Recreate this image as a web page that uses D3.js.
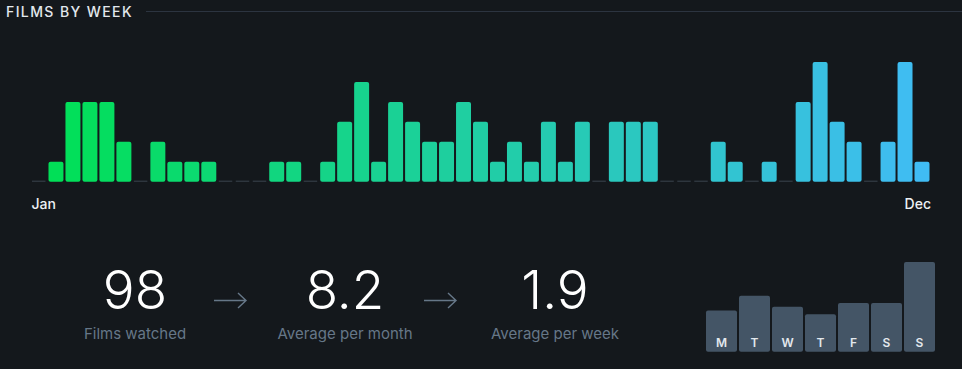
<!DOCTYPE html>
<html>
<head>
<meta charset="utf-8">
<script src="https://cdn.jsdelivr.net/npm/d3@7"></script>
<style>
  html, body { margin: 0; padding: 0; background: #14181c; }
  svg { display: block; }
  text { font-family: Inter, "Noto Sans", "DejaVu Sans", sans-serif; }
</style>
</head>
<body>
<svg id="chart" width="962" height="369"></svg>
<script>
// ---- data ----
const title = "FILMS BY WEEK";
const weeks = d3.range(53);
const weekCounts = [0,1,4,4,4,2,0,2,1,1,1,0,0,0,1,1,0,1,3,5,1,4,3,2,2,4,3,1,2,1,3,1,3,0,3,3,3,0,0,0,2,1,0,1,0,4,6,3,2,0,2,6,1];
const monthLabels = ["Jan", "Dec"];
const statValues = ["98", "8.2", "1.9"];
const statLabels = ["Films watched", "Average per month", "Average per week"];
const dayLabels = ["M", "T", "W", "T", "F", "S", "S"];
const dayCounts = [11, 15, 12, 10, 13, 13, 24];

const svg = d3.select("#chart");
svg.append("rect").attr("width", 962).attr("height", 369).attr("fill", "#14181c");

// title + rule
svg.append("text").attr("x", 6).attr("y", 17)
  .attr("fill", "#e3e8ed").attr("font-size", 14).attr("font-weight", 500)
  .attr("letter-spacing", "1.4px").text(title);
svg.append("line").attr("x1", 146).attr("x2", 962).attr("y1", 11.5).attr("y2", 11.5)
  .attr("stroke", "#2c3440").attr("stroke-width", 1);

// week bars
const x = d3.scaleBand().domain(weeks).range([31.5, 929.5]).paddingInner(0.118).paddingOuter(0);
const y = d3.scaleLinear().domain([0, 6]).range([181.7, 62]);
const color = d3.scaleLinear().domain([0, 52]).range(["#00e054", "#40bcf4"]).interpolate(d3.interpolateRgb);

const wk = weeks.map(i => ({ i, v: weekCounts[i] }));
svg.append("g").selectAll("rect").data(wk.filter(d => d.v > 0)).join("rect")
  .attr("x", d => x(d.i)).attr("width", x.bandwidth())
  .attr("y", d => y(d.v)).attr("height", d => y(0) - y(d.v))
  .attr("rx", 2).attr("fill", d => color(d.i));
svg.append("g").selectAll("line").data(wk.filter(d => d.v === 0)).join("line")
  .attr("x1", d => x(d.i) + 0.5).attr("x2", d => x(d.i) + x.bandwidth() - 1)
  .attr("y1", y(0) - 0.5).attr("y2", y(0) - 0.5)
  .attr("stroke", "#3a444f").attr("stroke-width", 1);

// month labels
svg.append("text").attr("x", x(0)).attr("y", 209).attr("fill", "#eef1f4")
  .attr("font-size", 14).attr("font-weight", 500).text(monthLabels[0]);
svg.append("text").attr("x", x(52) + x.bandwidth() + 1.5).attr("y", 209).attr("text-anchor", "end")
  .attr("fill", "#eef1f4").attr("font-size", 14).attr("font-weight", 500).text(monthLabels[1]);

// stats
const sx = d3.scalePoint().domain(d3.range(statValues.length)).range([135, 555]);
const stats = svg.append("g").selectAll("g").data(statValues).join("g")
  .attr("transform", (d, i) => `translate(${sx(i)},0)`);
stats.append("text").attr("text-anchor", "middle").attr("y", 309)
  .attr("fill", "#ffffff").attr("font-size", 53).attr("font-weight", 300).text(d => d);
stats.append("text").attr("text-anchor", "middle").attr("y", 339)
  .attr("fill", "#678").attr("font-size", 15).text((d, i) => statLabels[i]);

// arrows
const arrowX = d3.range(statValues.length - 1).map(i => (sx(i) + sx(i + 1)) / 2 - 10);
svg.append("g").selectAll("path").data(arrowX).join("path")
  .attr("d", cx => `M${cx - 16},300.5H${cx + 16}M${cx + 8},293L${cx + 16},300.5L${cx + 8},308`)
  .attr("fill", "none").attr("stroke", "#678").attr("stroke-width", 1.4);

// weekday chart
const dx = d3.scaleBand().domain(d3.range(7)).range([706, 935]).paddingInner(2 / 33).paddingOuter(0);
const dy = d3.scaleLinear().domain([0, 24]).range([351.7, 262]);
const days = svg.append("g").selectAll("g").data(dayCounts).join("g");
days.append("rect")
  .attr("x", (d, i) => dx(i)).attr("width", dx.bandwidth())
  .attr("y", d => dy(d)).attr("height", d => dy(0) - dy(d))
  .attr("rx", 2).attr("fill", "#456");
days.append("text")
  .attr("x", (d, i) => dx(i) + dx.bandwidth() / 2).attr("y", 347)
  .attr("text-anchor", "middle").attr("fill", "#e3e8ed")
  .attr("font-size", 12).attr("font-weight", 600).text((d, i) => dayLabels[i]);
</script>
</body>
</html>
